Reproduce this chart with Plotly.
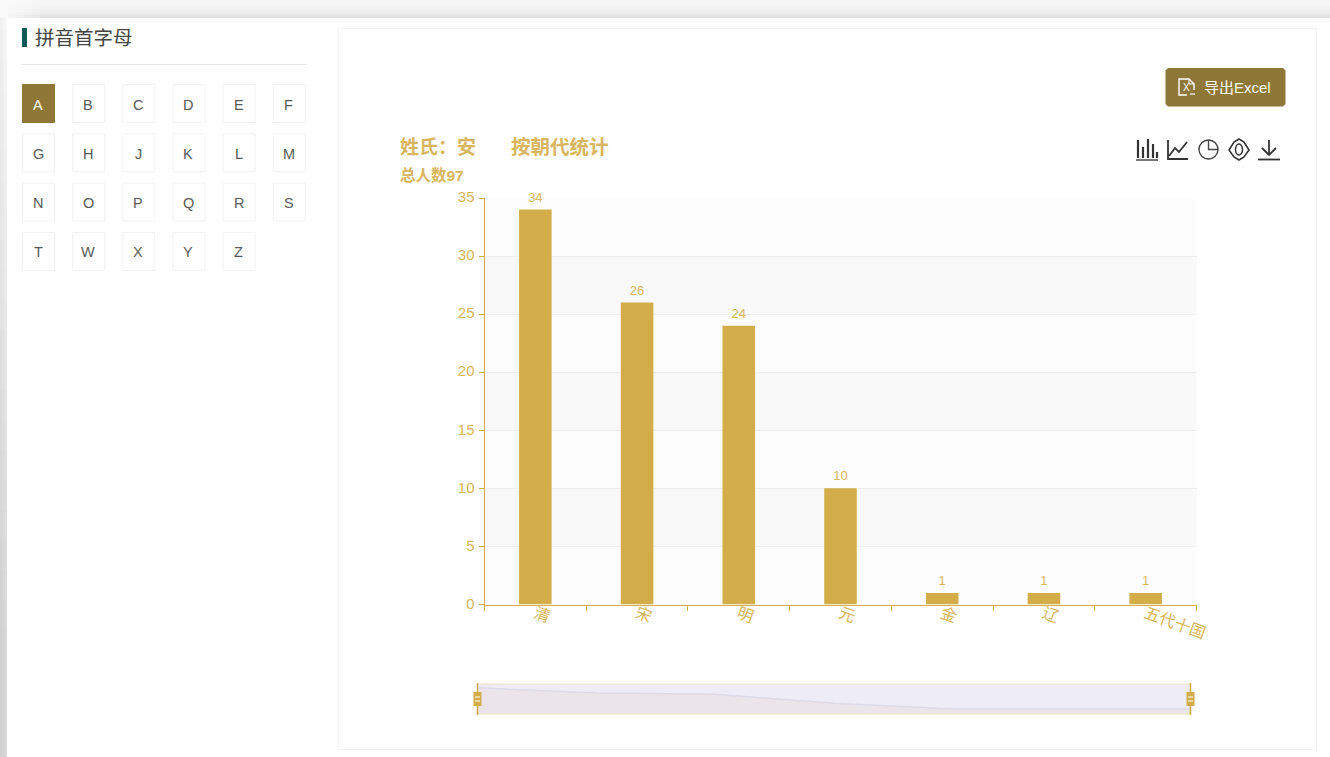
import plotly.graph_objects as go

W, H = 1330, 757

# ---- data ----
dynasties = ["清", "宋", "明", "元", "金", "辽", "五代十国"]
counts = [34, 26, 24, 10, 1, 1, 1]
y_ticks = [0, 5, 10, 15, 20, 25, 30, 35]
shaded_bands = [(5, 10), (15, 20), (25, 30)]
pale_bands = [(0, 5), (10, 15), (20, 25), (30, 35)]
letters = ["A", "B", "C", "D", "E", "F", "G", "H", "J", "K", "L", "M",
           "N", "O", "P", "Q", "R", "S", "T", "W", "X", "Y", "Z"]
mini_floor = [-7] * len(counts)

# ---- colours ----
GOLD = "#D2AD4A"
GOLD_TXT = "#D8B560"
BTN = "#8E7737"
MIXED = "Liberation Sans, Noto Sans CJK SC"


def fx(x):
    return x / W


def fy(y):
    return 1 - y / H


def path(points, close=False):
    s = "M" + " L".join(f"{fx(x):.5f},{fy(y):.5f}" for x, y in points)
    return s + (" Z" if close else "")


shapes, annos = [], []


def rect(x0, y0, x1, y1, fill=None, line=None, lw=1):
    shapes.append(dict(type="rect", xref="paper", yref="paper", layer="below",
                       x0=fx(x0), x1=fx(x1), y0=fy(y0), y1=fy(y1),
                       fillcolor=fill or "rgba(0,0,0,0)",
                       line=dict(color=line or "rgba(0,0,0,0)", width=lw if line else 0)))


def stroke(points, color="#333333", lw=1.5, close=False):
    shapes.append(dict(type="path", xref="paper", yref="paper", layer="above",
                       path=path(points, close), line=dict(color=color, width=lw),
                       fillcolor="rgba(0,0,0,0)"))


def solid(points, color):
    shapes.append(dict(type="path", xref="paper", yref="paper", layer="above",
                       path=path(points, True), line=dict(color=color, width=0),
                       fillcolor=color))


def ring(x0, y0, x1, y1, color="#333333", lw=1.5):
    shapes.append(dict(type="circle", xref="paper", yref="paper", layer="above",
                       x0=fx(x0), x1=fx(x1), y0=fy(y0), y1=fy(y1),
                       line=dict(color=color, width=lw), fillcolor="rgba(0,0,0,0)"))


def text(x, y, s, size, color, anchor="left", bold=False, family=MIXED):
    # annotations carry about 2px of inner padding; take it back for left-aligned text
    x = x - 2 if anchor == "left" else x
    annos.append(dict(xref="paper", yref="paper", x=fx(x), y=fy(y), text=f"<b>{s}</b>" if bold else s,
                      showarrow=False, xanchor=anchor, yanchor="middle",
                      font=dict(size=size, color=color, family=family)))


# ---- page backdrop with soft shadow ----
rect(0, 0, W, H, "#FFFFFF")
for i in range(18):
    v = 246 - int((i / 17) ** 2 * 22)
    rect(0, i, W, i + 1, f"rgb({v},{v},{v})")
for cx in range(0, 40, 8):
    for cy in range(0, 18, 3):
        t = 1 - cx / 40
        v = 246 - int((cy / 17) ** 2 * 22)
        v = int(v + (250 - v) * t)
        rect(cx, cy, cx + 8, cy + 3, f"rgb({v},{v},{v})")
for cy in range(0, H, 30):
    base = 240 - min(cy, 620) / 620 * 32
    for cx in range(7):
        v = int(base + cx * 1.5)
        rect(cx, max(cy, 18), cx + 1, cy + 30, f"rgb({v},{v},{v})")
rect(7, 18, W, H, "#FFFFFF")

# ---- left panel ----
rect(22, 28, 27, 47, "#0B5A55")
text(35, 38, "拼音首字母", 19.5, "#444444")
rect(22, 64, 306, 65, "#E6E6E6")
for i, ch in enumerate(letters):
    col, row = i % 6, i // 6
    x0 = 22 + col * 50.15
    y0 = 84 + row * 49.3
    active = i == 0
    rect(x0 + .5, y0 + .5, x0 + 32.5, y0 + 38.5, BTN if active else "#FFFFFF",
         "#F2F2F2" if not active else BTN, 1)
    text(x0 + 16, y0 + 20.5, ch, 14.5, "#FFFFFF" if active else "#5A5A5A", "center",
         family="Liberation Sans")

# ---- chart card ----
rect(338.5, 28.5, 1316.5, 749.5, "#FFFFFF", "#F3F3F3", 1)

# ---- export button ----
solid([(1168, 68), (1283, 68), (1285.5, 70.5), (1285.5, 104), (1283, 106.5),
       (1168, 106.5), (1165.5, 104), (1165.5, 70.5)], BTN)
stroke([(1187, 95), (1179, 95), (1179, 79), (1189, 79), (1194, 84), (1194, 90)], "#FFFFFF", 1.4)
stroke([(1189, 79), (1189, 84), (1194, 84)], "#FFFFFF", 1)
stroke([(1190, 94), (1195, 94)], "#FFFFFF", 1.2)
text(1186, 87, "X", 10, "#FFFFFF", "center", family="Liberation Sans")
text(1204, 87.5, "导出Excel", 15, "#FFFFFF")

# ---- titles ----
text(400, 147, "姓氏：安", 19, GOLD_TXT, bold=True)
text(511, 147, "按朝代统计", 19.5, GOLD_TXT, bold=True)
text(400, 175, "总人数97", 15.5, GOLD_TXT, bold=True)

# ---- toolbar icons ----
ICON = "#333333"
stroke([(1136, 160), (1158, 160)], "#555555", 1.6)
for x, top in [(1138, 140), (1143, 147), (1148, 139), (1153, 144), (1157, 152)]:
    stroke([(x, 158), (x, top)], ICON, 2.2)
stroke([(1168, 140), (1168, 159), (1188, 159)], ICON, 1.8)
stroke([(1169, 156), (1175, 148), (1179, 152), (1187, 142)], ICON, 1.8)
ring(1199, 140, 1218, 159, "#444444", 1.4)
stroke([(1208.5, 140), (1208.5, 149.5), (1218, 149.5)], "#444444", 1.4)
stroke([(1229, 150), (1234, 142), (1239, 139), (1244, 142), (1249, 150),
        (1244, 157), (1239, 160), (1234, 157)], ICON, 1.6, close=True)
ring(1235.5, 144, 1242.5, 155, ICON, 1.5)
stroke([(1269, 140), (1269, 155)], ICON, 1.8)
stroke([(1262, 148), (1269, 155), (1276, 148)], ICON, 1.8)
stroke([(1258, 159.5), (1280, 159.5)], ICON, 1.8)

# ---- chart plot bands ----
for lo, hi in pale_bands:
    shapes.append(dict(type="rect", xref="x domain", yref="y", layer="below", x0=0, x1=1,
                       y0=lo, y1=hi, fillcolor="#FDFDFD", line=dict(width=0)))
for lo, hi in shaded_bands:
    shapes.append(dict(type="rect", xref="x domain", yref="y", layer="below", x0=0, x1=1,
                       y0=lo, y1=hi, fillcolor="#F9F9F9", line=dict(width=0)))

# ---- minimap frame and handles ----
MINI_L, MINI_R, MINI_T, MINI_B = 477.5, 1190.5, 684, 714
rect(MINI_L, MINI_T, MINI_R, MINI_B, "#EEECF6")
stroke([(MINI_L, MINI_T), (MINI_R, MINI_T), (MINI_R, MINI_B), (MINI_L, MINI_B)], "#EFE2C2", 1, close=True)
for hx in (MINI_L, MINI_R):
    stroke([(hx, MINI_T - 1), (hx, MINI_B + 1)], GOLD, 1.6)
    solid([(hx - 4, 692), (hx + 4, 692), (hx + 4, 706), (hx - 4, 706)], GOLD)
    stroke([(hx - 2.5, 697), (hx + 2.5, 697)], "#FFFFFF", 1)
    stroke([(hx - 2.5, 701), (hx + 2.5, 701)], "#FFFFFF", 1)

fig = go.Figure()
fig.add_trace(go.Bar(
    x=dynasties, y=counts, width=0.32,
    marker=dict(color=GOLD, line=dict(width=0)),
    hoverinfo="x+y", showlegend=False,
))
fig.add_trace(go.Scatter(
    x=dynasties, y=counts, mode="markers+text", text=counts, textposition="top center",
    marker=dict(size=6, opacity=0), cliponaxis=False,
    textfont=dict(size=13, color=GOLD_TXT, family="Liberation Sans"),
    hoverinfo="skip", showlegend=False,
))
fig.add_trace(go.Scatter(
    x=list(range(len(counts))), y=mini_floor, mode="lines", line=dict(width=0),
    xaxis="x2", yaxis="y2", hoverinfo="skip", showlegend=False,
))
fig.add_trace(go.Scatter(
    x=list(range(len(counts))), y=counts, mode="lines", fill="tonexty",
    fillcolor="#EBE5EA", line=dict(color="#DDD9E8", width=1.5),
    xaxis="x2", yaxis="y2", hoverinfo="skip", showlegend=False,
))

fig.update_layout(
    width=W, height=H, autosize=False,
    margin=dict(l=0, r=0, t=0, b=0, autoexpand=False),
    paper_bgcolor="#FFFFFF", plot_bgcolor="rgba(0,0,0,0)",
    bargap=0.68, shapes=shapes, annotations=annos,
    font=dict(family=MIXED),
    xaxis=dict(
        domain=[fx(484.5), fx(1196.5)], anchor="y", type="category", automargin=False,
        categoryorder="array", categoryarray=dynasties,
        range=[-0.5, len(dynasties) - 0.5],
        tickson="boundaries", ticks="outside", ticklen=5, tickcolor=GOLD, tickwidth=1,
        showline=True, linecolor=GOLD, linewidth=1, showgrid=False, zeroline=False,
        tickangle=20, ticklabelstandoff=-7,
        tickfont=dict(size=16, color=GOLD_TXT, family="Noto Sans CJK SC"),
    ),
    yaxis=dict(
        domain=[fy(604.5), fy(198)], anchor="x", range=[0, 35], automargin=False,
        tickvals=y_ticks, ticks="outside", ticklen=5, tickcolor=GOLD, tickwidth=1,
        showline=True, linecolor=GOLD, linewidth=1,
        showgrid=True, gridcolor="#EEEEEE", gridwidth=1, zeroline=False,
        ticklabelstandoff=1, ticklabelshift=-1,
        tickfont=dict(size=15, color=GOLD_TXT, family="Liberation Sans"),
    ),
    xaxis2=dict(domain=[fx(MINI_L), fx(MINI_R)], anchor="y2", range=[0, 6], visible=False, automargin=False),
    yaxis2=dict(domain=[fy(MINI_B), fy(MINI_T)], anchor="x2", range=[-7, 40], visible=False, automargin=False),
)

fig.write_html("out.html", config=dict(displayModeBar=False, responsive=False),
               default_width=f"{W}px", default_height=f"{H}px",
               post_script="document.body.style.margin='0';document.body.style.overflow='hidden';"
                           "var g=document.getElementById('{plot_id}');g.style.position='fixed';"
                           "g.style.left='0';g.style.top='0';")
